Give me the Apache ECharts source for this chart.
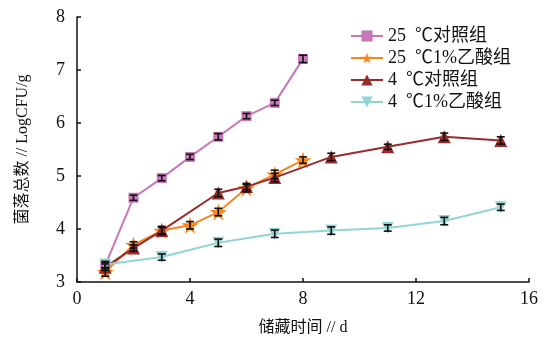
<!DOCTYPE html>
<html><head><meta charset="utf-8">
<script src="https://cdn.jsdelivr.net/npm/echarts@6/dist/echarts.min.js"></script>
<style>html,body{margin:0;padding:0;background:#fff}#c{width:548px;height:344px}</style>
</head><body><div id="c"></div>
<script>
var seriesNames = ['25  ℃对照组', '25  ℃1%乙酸组', '4  ℃对照组', '4  ℃1%乙酸组'];
var days25C = [1, 2, 3, 4, 5, 6, 7, 8];
var vals25C = [3.32, 4.59, 4.96, 5.36, 5.74, 6.13, 6.38, 7.21];
var err25C = [0.05, 0.05, 0.05, 0.05, 0.06, 0.05, 0.05, 0.07];
var days25A = [1, 2, 3, 4, 5, 6, 7, 8];
var vals25A = [3.19, 3.70, 3.97, 4.07, 4.32, 4.77, 5.03, 5.30];
var err25A = [0.08, 0.06, 0.06, 0.07, 0.07, 0.07, 0.08, 0.06];
var days4C = [1, 2, 3, 5, 6, 7, 9, 11, 13, 15];
var vals4C = [3.28, 3.64, 3.97, 4.68, 4.80, 4.97, 5.36, 5.55, 5.74, 5.67];
var err4C = [0.06, 0.06, 0.08, 0.07, 0.06, 0.08, 0.07, 0.05, 0.07, 0.07];
var days4A = [1, 3, 5, 7, 9, 11, 13, 15];
var vals4A = [3.33, 3.47, 3.74, 3.91, 3.97, 4.02, 4.15, 4.41];
var err4A = [0.06, 0.06, 0.07, 0.07, 0.07, 0.06, 0.07, 0.06];
var xTicks = [0, 4, 8, 12, 16];
var yTicks = [3, 4, 5, 6, 7, 8];

var colors = ['#C877B8', '#F7861F', '#992B2B', '#92D5D4'];
var symbols = ['rect', 'path://M50,0 L61,35 L98,35 L68,57 L79,91 L50,70 L21,91 L32,57 L2,35 L39,35 Z', 'triangle', 'path://M0,0 L100,0 L50,90 Z'];
var symSizes = [10, 17, 13, 12];
var groups = [[days25C, vals25C, err25C], [days25A, vals25A, err25A], [days4C, vals4C, err4C], [days4A, vals4A, err4A]];

var series = [];
groups.forEach(function (g, i) {
  series.push({
    name: seriesNames[i], type: 'line',
    data: g[0].map(function (d, k) { return [d, g[1][k]]; }),
    symbol: symbols[i], symbolSize: symSizes[i], showAllSymbol: true,
    lineStyle: { color: colors[i], width: 2 },
    itemStyle: { color: colors[i], borderWidth: 0 },
    z: 2 + i
  });
});
groups.forEach(function (g, i) {
  series.push({
    type: 'custom', name: 'err' + i, z: 10, silent: true,
    data: g[0].map(function (d, k) { return [d, g[1][k], g[2][k]]; }),
    renderItem: function (params, api) {
      var x = api.value(0), y = api.value(1), e = api.value(2);
      var hi = api.coord([x, y + e]), lo = api.coord([x, y - e]);
      var w = 4;
      var st = { stroke: '#111', lineWidth: 1.6 };
      return { type: 'group', children: [
        { type: 'line', shape: { x1: hi[0], y1: hi[1], x2: lo[0], y2: lo[1] }, style: st },
        { type: 'line', shape: { x1: hi[0] - w, y1: hi[1], x2: hi[0] + w, y2: hi[1] }, style: st },
        { type: 'line', shape: { x1: lo[0] - w, y1: lo[1], x2: lo[0] + w, y2: lo[1] }, style: st }
      ] };
    }
  });
});

var font = '"Liberation Serif", "Noto Sans CJK SC", serif';
var chart = echarts.init(document.getElementById('c'));
chart.setOption({
  animation: false,
  backgroundColor: '#fff',
  grid: { left: 77, right: 19, top: 17, bottom: 62 },
  legend: {
    data: seriesNames, left: 345, top: 22, orient: 'vertical',
    itemWidth: 32, itemHeight: 14, itemGap: 4,
    textStyle: { fontFamily: font, fontSize: 18, color: '#111' }
  },
  xAxis: {
    type: 'value', min: 0, max: 16, interval: 4,
    name: '储藏时间 // d', nameLocation: 'middle', nameGap: 38,
    nameTextStyle: { fontFamily: font, fontSize: 16, color: '#111' },
    axisLine: { lineStyle: { color: '#111', width: 1.5 } },
    axisTick: { inside: true, length: 4, lineStyle: { color: '#111', width: 1.5 } },
    axisLabel: { fontFamily: font, fontSize: 18, color: '#111', margin: 8,
      formatter: function (v) { return xTicks.indexOf(v) >= 0 ? String(v) : ''; } },
    splitLine: { show: false }
  },
  yAxis: {
    type: 'value', min: 3, max: 8, interval: 1,
    name: '菌落总数 // LogCFU/g', nameLocation: 'middle', nameGap: 46, nameRotate: 90,
    nameTextStyle: { fontFamily: font, fontSize: 16, color: '#111' },
    axisLine: { show: true, lineStyle: { color: '#111', width: 1.5 } },
    axisTick: { show: true, inside: true, length: 4, lineStyle: { color: '#111', width: 1.5 } },
    axisLabel: { fontFamily: font, fontSize: 18, color: '#111', margin: 12,
      formatter: function (v) { return yTicks.indexOf(v) >= 0 ? String(v) : ''; } },
    splitLine: { show: false }
  },
  series: series
});
</script></body></html>
